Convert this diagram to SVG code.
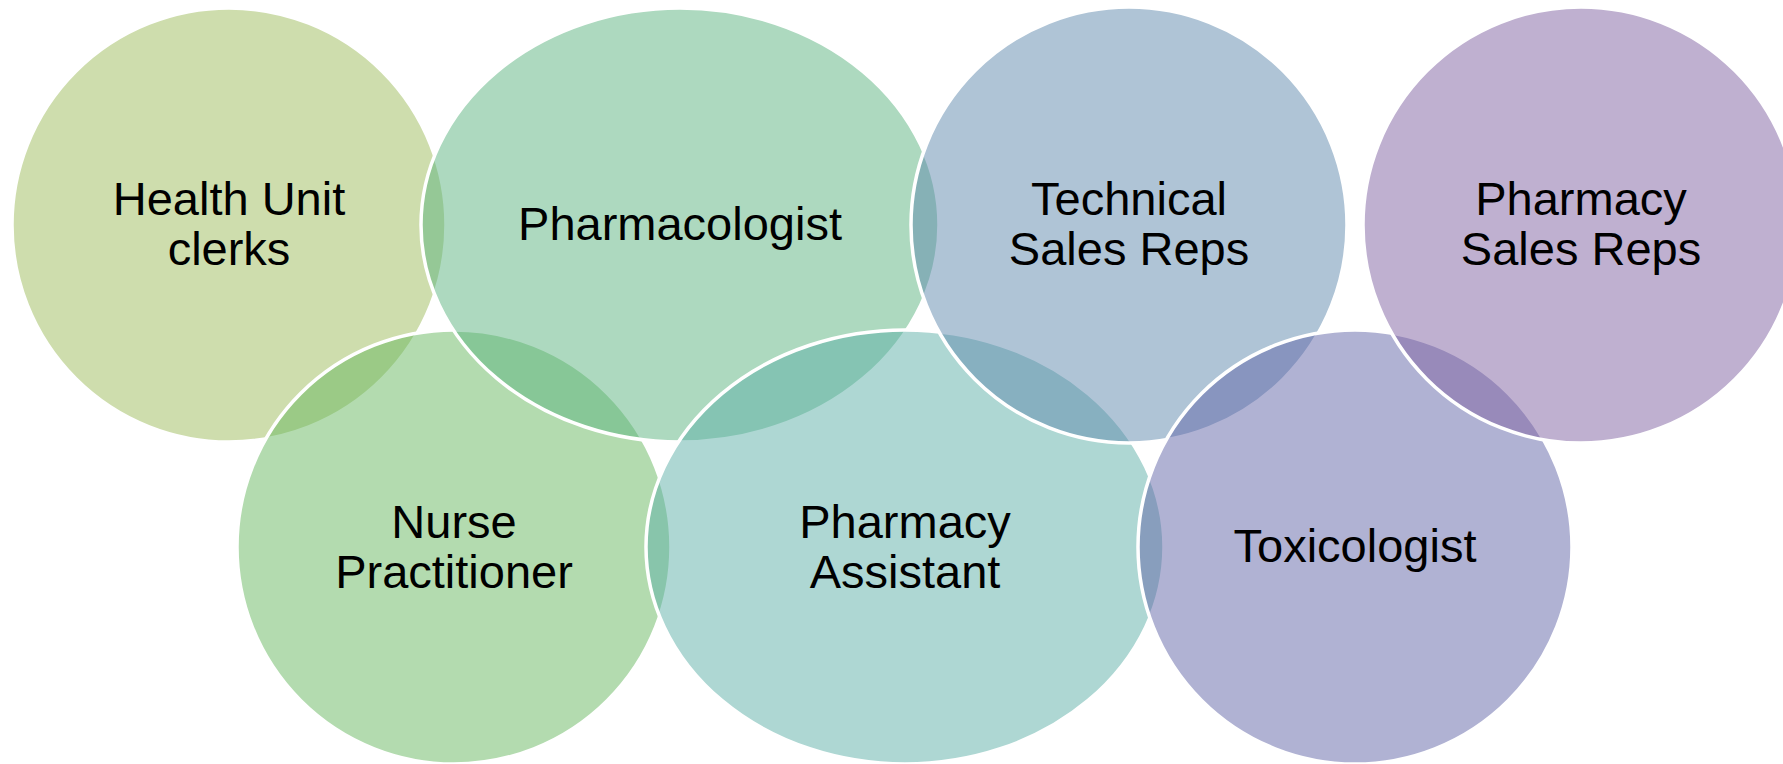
<svg xmlns="http://www.w3.org/2000/svg" width="1783" height="764" viewBox="0 0 1783 764">
<style>
.c{stroke:#ffffff;stroke-width:3.5;fill-opacity:0.5}
.t{font-family:"Liberation Sans",Arial,sans-serif;font-size:47px;fill:#000000;text-anchor:middle}
</style>
<rect x="0" y="0" width="1783" height="764" fill="#ffffff"/>
<g id="health-unit-clerks">
<ellipse class="c" cx="229" cy="225" rx="217" ry="217" fill="#9DBB5B"/>
</g>
<g id="nurse-practitioner">
<ellipse class="c" cx="454" cy="547" rx="217" ry="217" fill="#67B75F"/>
</g>
<g id="pharmacologist">
<ellipse class="c" cx="680" cy="225" rx="259" ry="217" fill="#5BB37F"/>
</g>
<g id="pharmacy-assistant">
<ellipse class="c" cx="905" cy="547" rx="259" ry="217" fill="#5DAFA7"/>
</g>
<g id="technical-sales-reps">
<ellipse class="c" cx="1129" cy="225" rx="218" ry="218" fill="#5F89AD"/>
</g>
<g id="toxicologist">
<ellipse class="c" cx="1355" cy="547" rx="217" ry="217" fill="#6165A7"/>
</g>
<g id="pharmacy-sales-reps">
<ellipse class="c" cx="1581" cy="225" rx="218" ry="218" fill="#7F61A1"/>
</g>
<g id="labels">
<text class="t" x="229" y="215">Health Unit</text>
<text class="t" x="229" y="265">clerks</text>
<text class="t" x="680" y="240">Pharmacologist</text>
<text class="t" x="1129" y="215">Technical</text>
<text class="t" x="1129" y="265">Sales Reps</text>
<text class="t" x="1581" y="215">Pharmacy</text>
<text class="t" x="1581" y="265">Sales Reps</text>
<text class="t" x="454" y="538">Nurse</text>
<text class="t" x="454" y="588">Practitioner</text>
<text class="t" x="905" y="538">Pharmacy</text>
<text class="t" x="905" y="588">Assistant</text>
<text class="t" x="1355" y="562">Toxicologist</text>
</g>
<g id="connectors"></g>
</svg>
